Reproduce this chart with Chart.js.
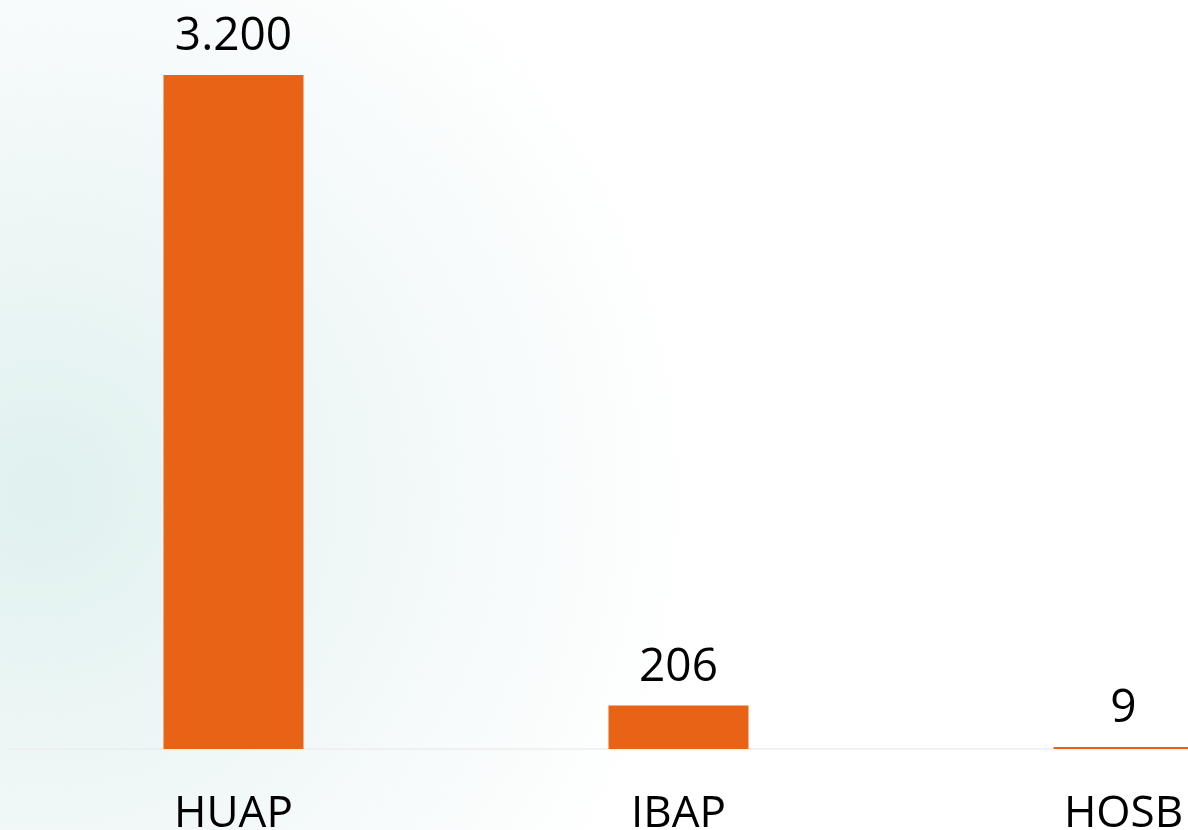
<!DOCTYPE html>
<html>
<head>
<meta charset="utf-8">
<script src="https://cdn.jsdelivr.net/npm/chart.js@4.4.0/dist/chart.umd.min.js"></script>
<style>
  html, body { margin: 0; padding: 0; overflow: hidden; width: 1188px; height: 830px; }
  body {
    background:
      radial-gradient(circle at 40px 490px, rgba(222,240,238,0.95) 0px, rgba(230,243,242,0.8) 220px, rgba(240,247,247,0.6) 450px, rgba(255,255,255,0) 660px),
      #ffffff;
  }
  #wrap { position: absolute; left: 0; top: 0; width: 1350px; height: 830px; }
</style>
</head>
<body>
<div id="wrap"><canvas id="barChart" width="1350" height="830"></canvas></div>
<script>
const categories = ['HUAP', 'IBAP', 'HOSB'];
const values = [3200, 206, 9];

function fmt(n) {
    return String(n).replace(/\B(?=(\d{3})+(?!\d))/g, '.');
}

const labelPlugin = {
    id: 'labelPlugin',
    beforeDatasetsDraw(chart) {
        const ctx = chart.ctx;
        const y0 = chart.scales.y.getPixelForValue(0);
        ctx.save();
        ctx.strokeStyle = '#ececec';
        ctx.lineWidth = 1.5;
        ctx.beginPath();
        ctx.moveTo(9, y0);
        ctx.lineTo(chart.width, y0);
        ctx.stroke();
        ctx.restore();
    },
    afterDatasetsDraw(chart) {
        const ctx = chart.ctx;
        const xs = chart.scales.x, ys = chart.scales.y;
        ctx.save();
        ctx.fillStyle = '#000000';
        ctx.textAlign = 'center';
        ctx.textBaseline = 'alphabetic';
        values.forEach(function(v, i) {
            const x = xs.getPixelForValue(i);
            ctx.font = '46px "Open Sans", sans-serif';
            ctx.fillText(fmt(v), x, ys.getPixelForValue(v) - 25);
            ctx.font = '44px "Open Sans", sans-serif';
            ctx.fillText(categories[i], x, ys.getPixelForValue(0) + 78);
        });
        ctx.restore();
    }
};

document.addEventListener('DOMContentLoaded', function() {
    const ctx = document.getElementById('barChart').getContext('2d');
    new Chart(ctx, {
        type: 'bar',
        data: {
            labels: categories,
            datasets: [{
                data: values,
                backgroundColor: '#E86315',
                borderWidth: 0,
                categoryPercentage: 1,
                barPercentage: 0.3146
            }]
        },
        options: {
            responsive: false,
            animation: false,
            layout: { padding: { left: 11, right: 4, top: 75, bottom: 81 } },
            plugins: { legend: { display: false }, tooltip: { enabled: false } },
            scales: {
                x: { display: false },
                y: { display: false, min: 0, max: 3200 }
            }
        },
        plugins: [labelPlugin]
    });
});
</script>
</body>
</html>
